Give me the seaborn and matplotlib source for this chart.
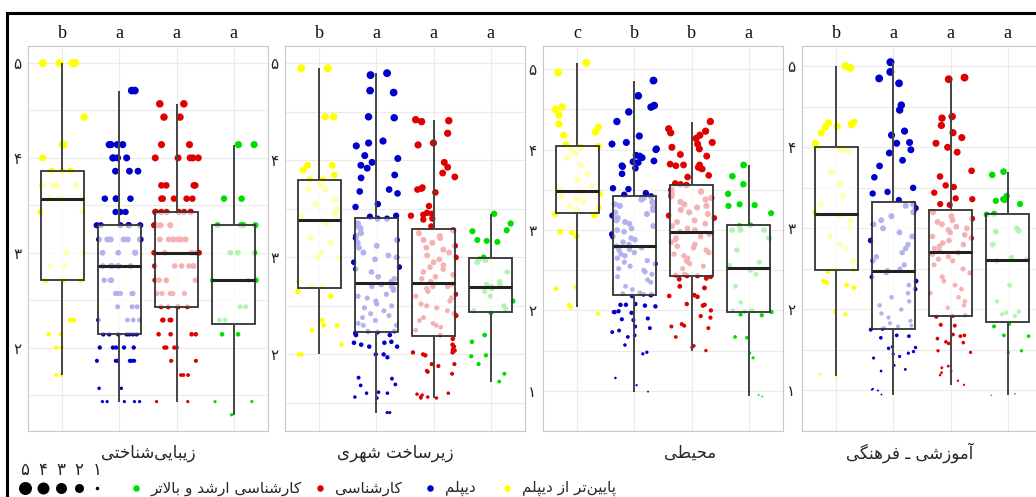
import numpy as np
import pandas as pd
import matplotlib
matplotlib.use("Agg")
import matplotlib.pyplot as plt
import matplotlib.transforms as mtransforms
from matplotlib.patches import Rectangle
import seaborn as sns

# ---------------- data ----------------
PANELS = ["زیبایی‌شناختی", "زیرساخت شهری", "محیطی", "آموزشی ـ فرهنگی"]
GROUPS = ["پایین‌تر از دیپلم", "دیپلم", "کارشناسی", "کارشناسی ارشد و بالاتر"]
LETTERS = [["b", "a", "a", "a"], ["b", "a", "a", "a"], ["c", "b", "b", "a"], ["b", "a", "a", "a"]]
YTICKS = [[2, 3, 4, 5], [2, 3, 4, 5], [1, 2, 3, 4, 5], [1, 2, 3, 4, 5]]
FA_DIGITS = {1: "۱", 2: "۲", 3: "۳", 4: "۴", 5: "۵"}
SIZE_LEVELS = [5, 4, 3, 2, 1]

# panel 1 : aesthetic
p1_yellow = [5.0, 5.0, 5.0, 5.0, 4.43, 4.14, 4.14, 4.0, 3.86, 3.86, 3.86, 3.71, 3.71, 3.71, 3.71, 3.57, 3.57, 3.57,
             3.43, 3.43, 3.0, 3.0, 2.86, 2.86, 2.71, 2.71, 2.71, 2.29, 2.29, 2.14, 2.14, 2.0, 2.0, 1.71, 1.71]
p1_blue = [4.71, 4.71, 4.14, 4.14, 4.14, 4.14, 4.0, 4.0, 4.0, 4.0, 3.86, 3.86, 3.86, 3.57, 3.57, 3.57, 3.57,
           3.43, 3.43, 3.43, 3.29, 3.29, 3.29, 3.29, 3.29, 3.29, 3.14, 3.14, 3.14, 3.14, 3.14, 3.14, 3.14,
           3.0, 3.0, 3.0, 3.0, 2.86, 2.86, 2.86, 2.86, 2.86, 2.86, 2.71, 2.71, 2.71, 2.57, 2.57, 2.57, 2.57, 2.57,
           2.43, 2.43, 2.43, 2.29, 2.29, 2.29, 2.29, 2.14, 2.14, 2.14, 2.14, 2.14, 2.14, 2.14, 2.0, 2.0, 2.0, 2.0, 2.0,
           1.86, 1.86, 1.86, 1.86, 1.86, 1.86, 1.57, 1.57, 1.43, 1.43, 1.43, 1.43, 1.43]
p1_red = [4.57, 4.57, 4.43, 4.43, 4.14, 4.14, 4.0, 4.0, 4.0, 4.0, 4.0, 3.71, 3.71, 3.71, 3.71, 3.57, 3.57, 3.57, 3.57, 3.57,
          3.43, 3.43, 3.43, 3.43, 3.43, 3.43, 3.43, 3.43, 3.29, 3.29, 3.29, 3.29, 3.29, 3.14, 3.14, 3.14, 3.14, 3.14, 3.14,
          3.0, 3.0, 3.0, 3.0, 3.0, 3.0, 2.86, 2.86, 2.86, 2.86, 2.86, 2.86, 2.71, 2.71, 2.71, 2.71, 2.71,
          2.57, 2.57, 2.57, 2.57, 2.57, 2.43, 2.43, 2.43, 2.43, 2.43, 2.29, 2.29, 2.29, 2.29, 2.14, 2.14, 2.14, 2.14,
          2.0, 2.0, 2.0, 2.0, 1.86, 1.86, 1.71, 1.71, 1.71, 1.43, 1.43]
p1_green = [4.14, 4.14, 3.57, 3.57, 3.29, 3.29, 3.29, 3.29, 3.0, 3.0, 3.0, 2.71, 2.71, 2.71, 2.43, 2.43, 2.29, 2.29,
            2.14, 2.14, 1.43, 1.43, 1.29, 1.29]

# panel 2 : urban infrastructure
p2_yellow = [4.95, 4.95, 4.45, 4.45, 3.95, 3.95, 3.9, 3.85, 3.8, 3.8, 3.75, 3.7, 3.7, 3.6, 3.55, 3.5, 3.45, 3.42, 3.35,
             3.2, 3.15, 3.05, 3.0, 3.0, 2.75, 2.7, 2.7, 2.65, 2.6, 2.35, 2.3, 2.3, 2.25, 2.1, 2.0, 2.0]
p2_blue = [4.9, 4.88, 4.72, 4.7, 4.45, 4.44, 4.2, 4.18, 4.15, 4.05, 4.02, 3.98, 3.95, 3.92, 3.85, 3.82, 3.7, 3.68, 3.66,
           3.55, 3.52, 3.43, 3.42, 3.4, 3.4,
           3.35, 3.32, 3.3, 3.25, 3.22, 3.2, 3.18, 3.15, 3.12, 3.1, 3.05, 3.02, 3.0, 2.98, 2.95, 2.9, 2.88, 2.85, 2.8,
           2.78, 2.75, 2.72, 2.7, 2.7, 2.68, 2.66, 2.62, 2.6, 2.58, 2.55, 2.52, 2.5, 2.48, 2.45, 2.42, 2.4, 2.38, 2.35,
           2.32, 2.3, 2.3,
           2.24, 2.24, 2.23, 2.22, 2.2, 2.2, 2.13, 2.12, 2.12, 2.1, 2.08, 2.08, 2.0, 2.0, 1.97, 1.76, 1.75, 1.69, 1.68,
           1.61, 1.6, 1.6, 1.56, 1.55, 1.4, 1.4]
p2_red = [4.42, 4.41, 4.4, 4.28, 4.18, 4.16, 3.98, 3.93, 3.87, 3.83, 3.72, 3.71, 3.7, 3.67, 3.53, 3.46, 3.45, 3.44, 3.43,
          3.4, 3.39, 3.32,
          3.28, 3.25, 3.22, 3.2, 3.18, 3.15, 3.12, 3.1, 3.08, 3.05, 3.02, 3.0, 2.98, 2.95, 2.92, 2.9, 2.88, 2.85, 2.82,
          2.8, 2.78, 2.75, 2.72, 2.7, 2.7, 2.68, 2.65, 2.62, 2.6, 2.58, 2.55, 2.52, 2.5, 2.48, 2.45, 2.42, 2.4, 2.38,
          2.35, 2.32, 2.3, 2.28, 2.25, 2.2, 2.16,
          2.1, 2.08, 2.05, 2.04, 2.02, 2.02, 2.0, 1.99, 1.9, 1.9, 1.88, 1.83, 1.82, 1.8, 1.6, 1.59, 1.58, 1.56, 1.56,
          1.55, 1.55]
p2_green = [3.45, 3.35, 3.28, 3.27, 3.18, 3.17, 3.16, 2.97, 2.98, 3.0, 2.95, 2.85, 2.75, 2.72, 2.72, 2.7, 2.68, 2.65,
            2.6, 2.55, 2.5, 2.47, 2.45, 2.43, 2.2, 2.13, 1.99, 1.98, 1.9, 1.8, 1.72]

# panel 3 : environmental
p3_yellow = [5.08, 4.96, 4.53, 4.5, 4.43, 4.32, 4.28, 4.22, 4.18, 4.06, 4.04, 4.03, 4.0, 3.95, 3.9, 3.8, 3.7, 3.62,
             3.55, 3.5, 3.48, 3.45, 3.42, 3.38, 3.35, 3.3, 3.28, 3.25, 3.24, 3.22, 3.2, 3.18, 2.98, 2.97, 2.92,
             2.29, 2.27, 2.07, 2.04, 1.96]
p3_blue = [4.86, 4.67, 4.55, 4.53, 4.47, 4.35, 4.17, 4.09, 4.07, 4.01, 4.0, 3.93, 3.92, 3.9, 3.86, 3.85, 3.84, 3.8,
           3.79, 3.77, 3.7, 3.52, 3.51, 3.46, 3.44,
           3.42, 3.4, 3.38, 3.35, 3.32, 3.3, 3.28, 3.25, 3.22, 3.2, 3.18, 3.15, 3.12, 3.1, 3.08, 3.05, 3.02, 3.0, 2.98,
           2.95, 2.92, 2.9, 2.88, 2.85, 2.82, 2.8, 2.78, 2.76, 2.75, 2.72, 2.7, 2.68, 2.65, 2.62, 2.6, 2.58, 2.55, 2.52,
           2.5, 2.48, 2.45, 2.42, 2.38, 2.35, 2.3, 2.26,
           2.22, 2.21, 2.2, 2.2, 2.19, 2.18, 2.08, 2.07, 2.07, 2.06, 2.05, 1.99, 1.98, 1.98, 1.97, 1.9, 1.89, 1.88, 1.8,
           1.78, 1.75, 1.73, 1.69, 1.67, 1.57, 1.48, 1.46, 1.16, 1.07, 0.99]
p3_red = [4.35, 4.26, 4.23, 4.21, 4.18, 4.14, 4.09, 4.07, 4.03, 4.01, 3.94, 3.92, 3.82, 3.81, 3.81, 3.8, 3.78, 3.77,
          3.76, 3.68, 3.66, 3.58, 3.57, 3.56,
          3.5, 3.48, 3.45, 3.42, 3.4, 3.38, 3.35, 3.32, 3.3, 3.28, 3.25, 3.22, 3.2, 3.18, 3.15, 3.12, 3.1, 3.08, 3.05,
          3.02, 3.0, 2.98, 2.95, 2.92, 2.9, 2.88, 2.85, 2.82, 2.8, 2.78, 2.75, 2.72, 2.7, 2.68, 2.65, 2.62, 2.6, 2.58,
          2.55, 2.52,
          2.45, 2.44, 2.44, 2.43, 2.43, 2.42, 2.4, 2.39, 2.3, 2.28, 2.19, 2.18, 2.17, 2.08, 2.07, 2.06, 2.0, 1.93,
          1.91, 1.83, 1.81, 1.8, 1.78, 1.67, 1.56, 1.54, 1.5]
p3_green = [3.81, 3.67, 3.57, 3.45, 3.32, 3.31, 3.3, 3.21, 3.06, 3.05, 3.0, 3.0, 3.0, 2.9, 2.75, 2.6, 2.56, 2.5, 2.45,
            2.3, 2.1, 2.0, 2.0, 2.0, 1.99, 1.98, 1.95, 1.94, 1.67, 1.66, 1.47, 1.41, 0.95, 0.93]

# panel 4 : educational - cultural
p4_yellow = [5.0, 4.98, 4.31, 4.3, 4.28, 4.26, 4.25, 4.18, 3.96, 3.98, 3.99, 3.97, 4.05, 3.7, 3.55, 3.4, 3.3, 3.2,
             3.16, 3.1, 3.0, 2.9, 2.8, 2.75, 2.6, 2.5, 2.49, 2.47, 2.35, 2.33, 2.3, 2.27, 1.97, 1.94, 1.2, 1.18]
p4_blue = [5.05, 4.93, 4.85, 4.79, 4.52, 4.46, 4.2, 4.15, 4.06, 4.05, 3.97, 3.93, 3.84, 3.77, 3.63, 3.5, 3.45, 3.43,
           3.35,
           3.3, 3.28, 3.25, 3.2, 3.15, 3.1, 3.05, 3.0, 2.95, 2.9, 2.85, 2.8, 2.75, 2.7, 2.65, 2.6, 2.55, 2.5, 2.48,
           2.45, 2.4, 2.35, 2.3, 2.25, 2.2, 2.15, 2.1, 2.05, 2.0, 1.95, 1.9, 1.86, 1.83,
           1.8, 1.79, 1.77, 1.76, 1.75, 1.68, 1.67, 1.65, 1.54, 1.53, 1.52, 1.48, 1.46, 1.45, 1.42, 1.4, 1.31, 1.26,
           1.24, 1.02, 1.01, 1.0, 0.95]
p4_red = [4.86, 4.84, 4.38, 4.36, 4.27, 4.18, 4.12, 4.05, 4.0, 3.94, 3.71, 3.64, 3.53, 3.51, 3.44, 3.37, 3.36, 3.3,
          3.29, 3.2,
          3.15, 3.12, 3.1, 3.08, 3.05, 3.02, 3.0, 2.98, 2.95, 2.92, 2.9, 2.88, 2.85, 2.82, 2.8, 2.78, 2.75, 2.72, 2.7,
          2.68, 2.65, 2.62, 2.6, 2.55, 2.5, 2.45, 2.4, 2.35, 2.3, 2.25, 2.2, 2.15, 2.1, 2.05, 2.02,
          1.93, 1.92, 1.91, 1.81, 1.8, 1.69, 1.68, 1.67, 1.64, 1.6, 1.59, 1.58, 1.49, 1.47, 1.3, 1.28, 1.24, 1.22,
          1.19, 1.12, 1.07]
p4_green = [3.7, 3.66, 3.4, 3.36, 3.35, 3.34, 3.3, 3.18, 3.17, 3.0, 2.97, 2.96, 2.8, 2.64, 2.62, 2.6, 2.3, 2.1, 1.97,
            1.96, 1.94, 1.92, 1.82, 1.79, 1.68, 1.67, 1.49, 1.47, 0.96, 0.94]

PANEL_DATA = [
    [p1_yellow, p1_blue, p1_red, p1_green],
    [p2_yellow, p2_blue, p2_red, p2_green],
    [p3_yellow, p3_blue, p3_red, p3_green],
    [p4_yellow, p4_blue, p4_red, p4_green],
]

COLORS = ["#FFFF00", "#0000CC", "#E00000", "#00DD00"]

# ---------------- Persian shaping helper (matplotlib has no RTL shaping) ----------------
FORMS = {
    "\u0622": ("\uFE81", "\uFE82"), "\u0627": ("\uFE8D", "\uFE8E"), "\u062F": ("\uFEA9", "\uFEAA"),
    "\u0631": ("\uFEAD", "\uFEAE"), "\u0632": ("\uFEAF", "\uFEB0"), "\u0648": ("\uFEED", "\uFEEE"),
    "\u0628": ("\uFE8F", "\uFE90", "\uFE91", "\uFE92"), "\u067E": ("\uFB56", "\uFB57", "\uFB58", "\uFB59"),
    "\u062A": ("\uFE95", "\uFE96", "\uFE97", "\uFE98"), "\u062D": ("\uFEA1", "\uFEA2", "\uFEA3", "\uFEA4"),
    "\u062E": ("\uFEA5", "\uFEA6", "\uFEA7", "\uFEA8"), "\u0633": ("\uFEB1", "\uFEB2", "\uFEB3", "\uFEB4"),
    "\u0634": ("\uFEB5", "\uFEB6", "\uFEB7", "\uFEB8"), "\u0637": ("\uFEC1", "\uFEC2", "\uFEC3", "\uFEC4"),
    "\u0641": ("\uFED1", "\uFED2", "\uFED3", "\uFED4"), "\u06A9": ("\uFB8E", "\uFB8F", "\uFB90", "\uFB91"),
    "\u06AF": ("\uFB92", "\uFB93", "\uFB94", "\uFB95"), "\u0644": ("\uFEDD", "\uFEDE", "\uFEDF", "\uFEE0"),
    "\u0645": ("\uFEE1", "\uFEE2", "\uFEE3", "\uFEE4"), "\u0646": ("\uFEE5", "\uFEE6", "\uFEE7", "\uFEE8"),
    "\u0647": ("\uFEE9", "\uFEEA", "\uFEEB", "\uFEEC"), "\u06CC": ("\uFBFC", "\uFBFD", "\uFBFE", "\uFBFF"),
}


def _joins_next(c):
    return c == "\u0640" or (c in FORMS and len(FORMS[c]) == 4)


def _is_letter(c):
    return c in FORMS or c == "\u0640"


def fa(text):
    chars = list(text)
    n = len(chars)
    out = []
    i = 0
    while i < n:
        c = chars[i]
        prev_join = i > 0 and _joins_next(chars[i - 1])
        if c == "\u0644" and i + 1 < n and chars[i + 1] in ("\u0627", "\u0622"):
            if chars[i + 1] == "\u0627":
                out.append("\uFEFC" if prev_join else "\uFEFB")
            else:
                out.append("\uFEF6" if prev_join else "\uFEF5")
            i += 2
            continue
        if c in FORMS:
            f = FORMS[c]
            next_join = len(f) == 4 and i + 1 < n and _is_letter(chars[i + 1])
            if len(f) == 2:
                out.append(f[1] if prev_join else f[0])
            elif prev_join and next_join:
                out.append(f[3])
            elif next_join:
                out.append(f[2])
            elif prev_join:
                out.append(f[1])
            else:
                out.append(f[0])
        elif c == "\u200c":
            pass
        else:
            out.append(c)
        i += 1
    return "".join(reversed(out))


# ---------------- figure ----------------
sns.set_style("white")
plt.rcParams["font.family"] = ["DejaVu Sans"]
np.random.seed(7)

W, H = 1036, 497
fig = plt.figure(figsize=(W / 100, H / 100), dpi=100)

panel_left = [28, 285, 543, 802]
panel_w = 240
ax_top, ax_bot = 46, 431
ylims = [(1.12, 5.18), (1.21, 5.18), (0.72, 5.29), (0.73, 5.25)]
title_x = [148, 395, 690, 910]


def size_of(v):
    # marker area grows with the plotted value (size legend 1..5)
    return 0.5184 * np.clip(15.0 * np.asarray(v) - 11.0, 0.5, None)


for p in range(4):
    ax = fig.add_axes([panel_left[p] / W, (H - ax_bot) / H, panel_w / W, (ax_bot - ax_top) / H])
    grp, val = [], []
    for g, vals in zip(GROUPS, PANEL_DATA[p]):
        grp += [g] * len(vals)
        val += list(vals)
    df = pd.DataFrame({"grp": grp, "val": val})

    n0 = len(ax.collections)
    sns.stripplot(data=df, x="grp", y="val", hue="grp", order=GROUPS, hue_order=GROUPS,
                  palette=COLORS, jitter=0.4, linewidth=0, legend=False, ax=ax, zorder=2)
    for coll in ax.collections[n0:]:
        offs = coll.get_offsets()
        coll.set_sizes(size_of(offs[:, 1]))

    sns.boxplot(data=df, x="grp", y="val", order=GROUPS, color="white", width=0.75,
                showfliers=False, showcaps=False, linecolor="#333333", linewidth=1.3,
                boxprops=dict(facecolor=(1, 1, 1, 0.7), edgecolor="#333333", zorder=3),
                whiskerprops=dict(color="#444444", linewidth=1.4, zorder=3),
                medianprops=dict(color="#222222", linewidth=2.2, zorder=4), ax=ax)

    ax.set_xlim(-0.6, 3.6)
    ax.set_ylim(*ylims[p])
    ax.set_xlabel("")
    ax.set_ylabel("")
    ax.set_xticks(range(4))
    ax.set_xticklabels([])
    ax.set_yticks(YTICKS[p])
    ax.set_yticklabels([FA_DIGITS[t] for t in YTICKS[p]], fontsize=11, family="DejaVu Sans")
    ax.set_yticks([t + 0.5 for t in YTICKS[p][:-1]] + [YTICKS[p][0] - 0.5], minor=True)
    ax.set_axisbelow(True)
    ax.grid(True, which="both", axis="y", color="#EBEBEB", linewidth=0.8)
    ax.grid(True, which="major", axis="x", color="#EBEBEB", linewidth=0.8)
    ax.tick_params(axis="x", length=3, color="#AAAAAA", width=0.8)
    ax.tick_params(axis="y", which="major", length=2, color="#AAAAAA", width=0.8, pad=3)
    ax.tick_params(axis="y", which="minor", length=0)
    for sp in ax.spines.values():
        sp.set_color("#C8C8C8")
        sp.set_linewidth(0.8)
    ax.set_facecolor("white")

    trans = mtransforms.blended_transform_factory(ax.transData, ax.transAxes)
    for j, letter in enumerate(LETTERS[p]):
        ax.text(j, 1.0 + 13 / (ax_bot - ax_top), letter, transform=trans, ha="center", va="center",
                fontsize=13, family="Liberation Serif", color="#111111")

    fig.text(title_x[p] / W, 1 - 453 / H, fa(PANELS[p]), ha="center", va="center", fontsize=12)

# ---------------- legend (bottom, drawn in pixel coordinates) ----------------
lax = fig.add_axes([0, 0, 1, 1], zorder=-1)
lax.set_xlim(0, W)
lax.set_ylim(H, 0)
lax.axis("off")

size_x = [25, 43, 61, 79, 97]
size_d = [13, 12, 11, 9, 3.5]
for lv, x, d in zip(SIZE_LEVELS, size_x, size_d):
    lax.text(x, 470, FA_DIGITS[lv], ha="center", va="center", fontsize=12)
    lax.scatter([x], [488], s=(d * 0.72) ** 2, color="black", linewidth=0)

key_x = [507, 430, 320, 136]
for g, col, x in zip(GROUPS, COLORS, key_x):
    lax.scatter([x], [488], s=(6.5 * 0.72) ** 2, color=col, linewidth=0)
    lax.text(x + 15, 488, fa(g), ha="left", va="center", fontsize=11)

fig.add_artist(Rectangle((7 / W, -0.05), 1.2, (H - 13) / H + 0.05, transform=fig.transFigure,
                         fill=False, edgecolor="black", linewidth=2.2, zorder=10, clip_on=False))

fig.savefig("out.png", dpi=100)
